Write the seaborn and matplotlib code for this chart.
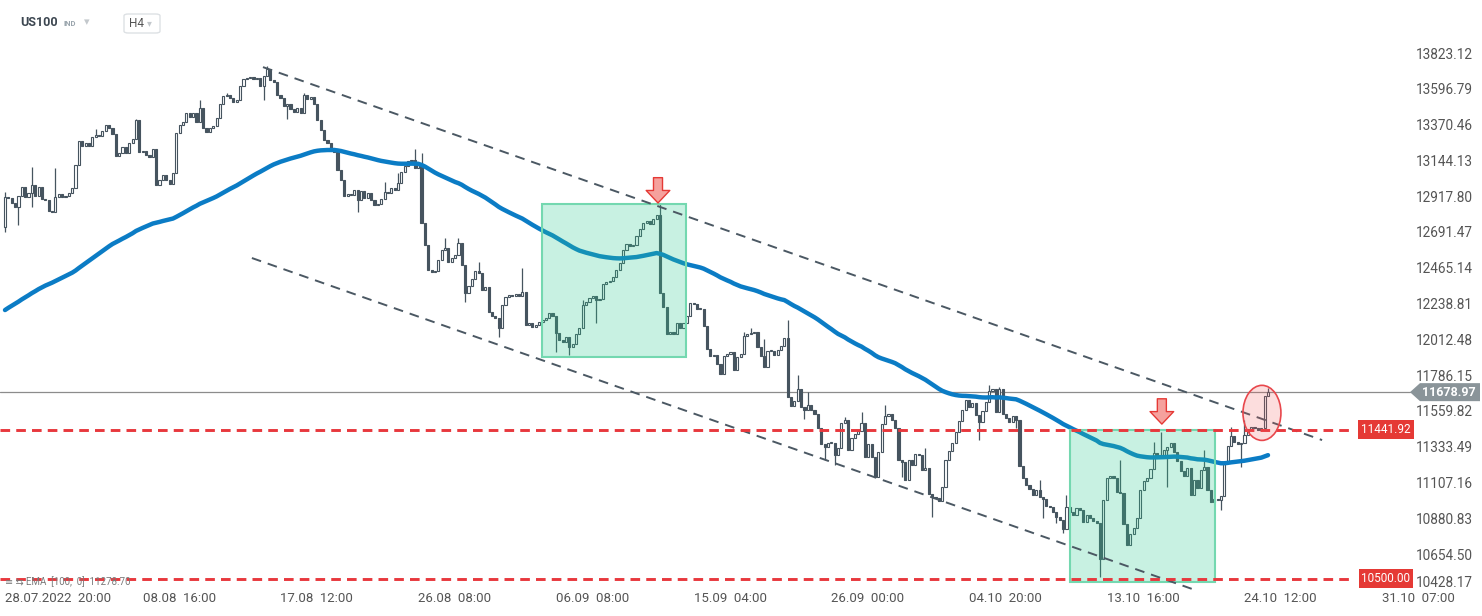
"""
US100 H4 chart with falling channel, EMA(100) and support/resistance levels.
"""
import numpy as np
import pandas as pd
import matplotlib
matplotlib.use("Agg")
import matplotlib.pyplot as plt
import seaborn as sns
from matplotlib import transforms
from matplotlib.patches import Rectangle, Ellipse, Polygon, FancyBboxPatch

sns.set_style("white")
plt.rcParams["font.family"] = ["Roboto", "DejaVu Sans"]

# ---- data ----
symbol = "US100"
timeframe = "H4"

# H4 closes, first candle 28.07.2022 20:00
closes = [
    12913, 12906, 12875, 12850, 12919, 12976, 12913, 12938, 12989, 12919,
    12976, 12900, 12894, 12824, 12818, 12913, 12932, 12913, 12919, 12938,
    12970, 13115, 13267, 13235, 13254, 13235, 13292, 13305, 13298, 13330,
    13368, 13349, 13311, 13172, 13191, 13229, 13191, 13254, 13279, 13399,
    13197, 13203, 13178, 13165, 13216, 12988, 13020, 13052, 13020, 12995,
    13064, 13317, 13368, 13387, 13444, 13420, 13444, 13387, 13475, 13349,
    13324, 13349, 13362, 13412, 13501, 13551, 13557, 13538, 13513, 13526,
    13614, 13659, 13665, 13671, 13659, 13665, 13614, 13678, 13722, 13652,
    13640, 13557, 13538, 13488, 13501, 13469, 13450, 13475, 13444, 13557,
    13532, 13545, 13501, 13399, 13336, 13273, 13254, 13222, 13197, 13083,
    13020, 12919, 12932, 12925, 12957, 12894, 12950, 12906, 12938, 12894,
    12862, 12868, 12900, 12944, 12938, 12970, 12957, 13001, 13071, 13109,
    13140, 13147, 13096, 13115, 12748, 12609, 12451, 12438, 12445, 12514,
    12578, 12590, 12502, 12527, 12546, 12622, 12483, 12306, 12350, 12394,
    12445, 12432, 12325, 12344, 12186, 12160, 12148, 12085, 12230, 12280,
    12293, 12287, 12299, 12287, 12312, 12104, 12116, 12091, 12104, 12123,
    12135, 12148, 12179, 12160, 12053, 12009, 11996, 12028, 11964, 11983,
    12047, 12085, 12230, 12249, 12274, 12287, 12261, 12268, 12363, 12375,
    12382, 12407, 12451, 12496, 12578, 12616, 12603, 12609, 12666, 12710,
    12748, 12761, 12742, 12773, 12799, 12306, 12217, 12047, 12059, 12047,
    12116, 12085, 12116, 12160, 12243, 12236, 12205, 12205, 12097, 11951,
    11907, 11914, 11857, 11794, 11907, 11920, 11933, 11819, 11901, 11920,
    12034, 12047, 12053, 12059, 11964, 11907, 11838, 11939, 11939, 11914,
    11946, 11971, 12021, 11648, 11591, 11623, 11699, 11585, 11566, 11598,
    11566, 11541, 11452, 11351, 11332, 11357, 11357, 11282, 11326, 11484,
    11503, 11313, 11389, 11414, 11433, 11484, 11269, 11351, 11269, 11143,
    11301, 11478, 11528, 11541, 11503, 11452, 11250, 11237, 11124, 11250,
    11218, 11288, 11281, 11187, 11200, 11035, 11016, 11010, 10991, 11079,
    11250, 11307, 11357, 11427, 11497, 11566, 11629, 11585, 11611, 11534,
    11490, 11560, 11617, 11686, 11699, 11553, 11699, 11541, 11516, 11490,
    11528, 11503, 11212, 11136, 11093, 11067, 11029, 11060, 11016, 11004,
    10959, 10953, 10921, 10890, 10871, 10814, 10953, 10921, 10902, 10946,
    10934, 10858, 10902, 10883, 10864, 10852, 10624, 10997, 11136, 11149,
    11136, 11047, 11041, 10845, 10713, 10782, 10820, 10883, 11060, 11117,
    11136, 11193, 11294, 11269, 11281, 11313, 11332, 11357, 11301, 11244,
    11181, 11149, 11200, 11029, 11124, 11073, 11187, 11206, 11060, 10984,
    11004, 10997, 11022, 11237, 11338, 11402, 11364, 11351, 11357, 11408,
    11446, 11458, 11452, 11440, 11452, 11655, 11678.97,
]
first_open = 12723

# candles with visible wicks: index -> price
wick_highs = {
    0: 12944, 8: 13102, 15: 13096, 27: 13340, 39: 13406, 58: 13526, 66: 13570,
    78: 13741, 89: 13570, 113: 13008, 117: 13064, 122: 13216, 124: 13191,
    131: 12654, 135: 12654, 141: 12502, 154: 12464, 172: 12260, 195: 12875,
    220: 12060, 222: 12085, 226: 12015, 233: 12135, 236: 11787, 239: 11680,
    250: 11522, 255: 11553, 262: 11598, 274: 11326, 293: 11724, 296: 11712,
    308: 11124, 316: 11029, 332: 11250, 342: 11364, 344: 11427, 357: 11314,
    365: 11457, 369: 11503, 376: 11705,
}
wick_lows = {
    0: 12691, 4: 12735, 8: 12849, 77: 13526, 84: 13406, 105: 12818,
    137: 12249, 147: 12028, 164: 11933, 168: 11914, 176: 12116, 238: 11509,
    244: 11250, 247: 11218, 267: 11140, 276: 10890, 290: 11377, 301: 11452,
    309: 10883, 313: 10852, 315: 10789, 326: 10510, 346: 11079, 362: 10934,
    368: 11206,
}

ema_period = 100
ema_start = 12198          # EMA value at the first visible candle
ema_label_value = 11278.70

x_tick_pos = [0, 41, 82, 123, 164, 205, 246, 287, 328, 369, 410]
x_tick_labels = ["28.07.2022  20:00", "08.08  16:00", "17.08  12:00",
                 "26.08  08:00", "06.09  08:00", "15.09  04:00",
                 "26.09  00:00", "04.10  20:00", "13.10  16:00",
                 "24.10  12:00", "31.10  07:00"]
y_ticks = [13823.12, 13596.79, 13370.46, 13144.13, 12917.80, 12691.47,
           12465.14, 12238.81, 12012.48, 11786.15, 11559.82, 11333.49,
           11107.16, 10880.83, 10654.50, 10428.17]

level_resistance = 11441.92
level_support = 10500.00
last_price = 11678.97

# analyst drawings (candle index, price)
channel_upper = ([76.8, 392.1], [13734, 11376])
channel_lower = ([73.5, 354.3], [12527, 10428])
boxes = [(159.9, 11901, 202.7, 12868), (317.0, 10478, 360.2, 11441.92)]
arrows = [(194.4, 12875), (344.4, 11477)]
ellipse_center = (374.2, 11548)
ellipse_size = (11.3, 348)

# ---- colours ----
candle_color = "#46545f"
ema_color = "#0b7cc5"
red = "#e8383d"
W, H = 1482, 616

# ---- prepare candles ----
df = pd.DataFrame({"close": closes})
df["open"] = [first_open] + closes[:-1]
df["high"] = [max(o, c, wick_highs.get(i, c)) for i, (o, c) in enumerate(zip(df["open"], df["close"]))]
df["low"] = [min(o, c, wick_lows.get(i, c)) for i, (o, c) in enumerate(zip(df["open"], df["close"]))]
df["idx"] = np.arange(len(df))

ema = [ema_start]
alpha = 2 / (ema_period + 1)
for c in closes[1:]:
    ema.append(ema[-1] + alpha * (c - ema[-1]))
df["ema"] = ema

# ---- figure ----
fig = plt.figure(figsize=(W / 100, H / 100), dpi=100)
ax = fig.add_axes([0, 26 / H, 1355 / W, 550 / H])
ax.set_xlim(-1.49, 401.9)
ax.set_ylim(10428.15, 13905.31)
for s in ax.spines.values():
    s.set_visible(False)

# wicks
ax.vlines(df["idx"], df["low"], df["high"], color=candle_color, lw=0.9, zorder=2)

# bodies
up = df["close"] >= df["open"]
body_w = 0.64
bottom = np.minimum(df["open"], df["close"])
height = np.maximum((df["close"] - df["open"]).abs(), 6)
ax.bar(df["idx"][up], height[up], bottom=bottom[up], width=body_w,
       color="white", edgecolor=candle_color, linewidth=0.8, zorder=2.5)
ax.bar(df["idx"][~up], height[~up], bottom=bottom[~up], width=body_w,
       color=candle_color, edgecolor=candle_color, linewidth=0.8, zorder=2.5)

# EMA
sns.lineplot(data=df, x="idx", y="ema", ax=ax, color=ema_color, linewidth=3.2,
             legend=False, zorder=3)

# highlight boxes
for x0, y0, x1, y1 in boxes:
    ax.add_patch(Rectangle((x0, y0), x1 - x0, y1 - y0, facecolor="#2ecc8f",
                           alpha=0.26, edgecolor="none", zorder=4))
    ax.add_patch(Rectangle((x0, y0), x1 - x0, y1 - y0, facecolor="none",
                           edgecolor="#74d8b0", lw=1.5, zorder=4.1))

# channel
for xs, ys in (channel_upper, channel_lower):
    ax.plot(xs, ys, color="#4b5863", lw=1.4, dashes=(5, 3.6), zorder=5,
            solid_capstyle="butt")

# levels
for lvl in (level_resistance, level_support):
    ax.axhline(lvl, color=red, lw=2.1, dashes=(3.3, 2.1), zorder=6)

# current price line, extends to the tag
fig_y = transforms.blended_transform_factory(fig.transFigure, ax.transData)
ax.plot([0, 1410 / W], [last_price, last_price], color="#8c8c8c", lw=0.9,
        transform=fig_y, clip_on=False, zorder=1)

# ellipse and arrows
ax.add_patch(Ellipse(ellipse_center, *ellipse_size, facecolor=(0.95, 0.35, 0.35, 0.2),
                     edgecolor="#e8474c", lw=1.2, zorder=7))
for xi, tip in arrows:
    ax.annotate("", xy=(xi, tip), xytext=(xi, tip + 160),
                arrowprops=dict(arrowstyle="simple,head_length=0.9,head_width=1.7,tail_width=0.65",
                                fc="#f5a19d", ec="#e53935", lw=1, shrinkA=0, shrinkB=0),
                zorder=8)

# y axis on the right
ax.yaxis.tick_right()
ax.set_yticks(y_ticks)
ax.set_yticklabels([f"{v:.2f}" for v in y_ticks], fontsize=9.8, color="#555555")
ax.tick_params(axis="y", length=0, pad=44)
ax.get_yticklabels()[-1].set_va("bottom")
ax.set_xticks([])
ax.set_xlabel("")
ax.set_ylabel("")

# x labels (left aligned at candle time)
x_ax = transforms.blended_transform_factory(ax.transData, ax.transAxes)
for p, lab in zip(x_tick_pos, x_tick_labels):
    ax.text(p, -8 / 550, lab, transform=x_ax, ha="left", va="center",
            fontsize=9.5, color="#555555", clip_on=False)

# level tags
for lvl in (level_resistance, level_support):
    ax.text(1386 / W, lvl, f"{lvl:.2f}", transform=fig_y, ha="center", va="center",
            fontsize=8.5, color="white", clip_on=False, zorder=9,
            bbox=dict(boxstyle="square,pad=0.25", fc="#e53935", ec="none"))

# current price tag
yc = ax.transData.transform((0, last_price))[1] / H
hh = 9 / H
pts = [(1410 / W, yc), (1420 / W, yc + hh), (1480 / W, yc + hh),
       (1480 / W, yc - hh), (1420 / W, yc - hh)]
fig.add_artist(Polygon(pts, closed=True, transform=fig.transFigure,
                       facecolor="#8a9499", edgecolor="none"))
fig.text(1449 / W, yc, f"{last_price:.2f}", ha="center", va="center",
         fontsize=9, color="white", weight="bold")

# header
fig.text(20 / W, 1 - 23 / H, symbol, fontsize=9, weight="bold", color="#3c4650", va="center")
fig.text(63 / W, 1 - 24 / H, "IND", fontsize=5.5, weight="bold", color="#9aa5ad", va="center")
fig.text(84 / W, 1 - 22 / H, "\u25be", fontsize=8, color="#c3c8cc", va="center")
fig.add_artist(FancyBboxPatch((124 / W, 1 - 33 / H), 36 / W, 19 / H,
                              boxstyle="round,pad=0,rounding_size=0.003",
                              transform=fig.transFigure, fc="white", ec="#dde1e4", lw=1))
fig.text(129 / W, 1 - 23.5 / H, timeframe, fontsize=8.5, color="#555555", va="center")
fig.text(147 / W, 1 - 23 / H, "\u25be", fontsize=7, color="#c3c8cc", va="center")

# indicator legend bottom left
fig.text(5 / W, 1 - 582 / H, f"\u2261 \u21c6 EMA  [100,  0]  {ema_label_value:.2f}",
         fontsize=7, color="#7a7a7a", va="center")

fig.savefig("out.png", dpi=100)
plt.close(fig)
